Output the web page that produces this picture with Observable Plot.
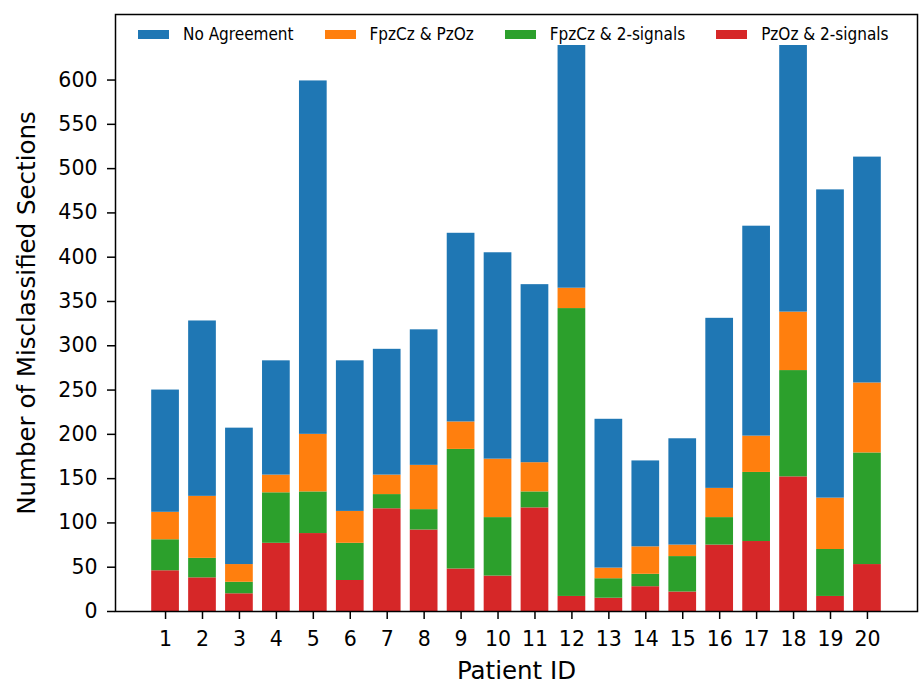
<!DOCTYPE html>
<html>
<head>
<meta charset="utf-8">
<script src="https://cdn.jsdelivr.net/npm/d3@7"></script>
<script src="https://cdn.jsdelivr.net/npm/@observablehq/plot@0.6"></script>
<style>
  html, body { margin: 0; padding: 0; background: #fff; }
  #chart { position: relative; width: 919px; height: 684px; font-family: "DejaVu Sans", sans-serif; }
  #legend {
    position: absolute; left: 138px; top: 23px;
    display: flex; align-items: center; gap: 31px;
    font-family: "DejaVu Sans Condensed", "DejaVu Sans", sans-serif;
    font-stretch: condensed; font-size: 17px; color: #000;
    background: #fff; padding: 1px 0;
  }
  #legend .item { display: flex; align-items: center; gap: 14px; }
  #legend .sw { width: 31px; height: 9px; }
  #chart svg g[aria-label="x-axis label"] text,
  #chart svg g[aria-label="y-axis label"] text { font-size: 24.5px; }
</style>
</head>
<body>
<div id="chart"><div id="legend"></div></div>
<script>
// Patients and misclassified-section counts per agreement category
const patients = [1, 2, 3, 4, 5, 6, 7, 8, 9, 10, 11, 12, 13, 14, 15, 16, 17, 18, 19, 20];
const pzOzTwoSignals   = [46, 38, 20, 77, 88, 35, 116, 92, 48, 40, 117, 17, 15, 28, 22, 75, 79, 152, 17, 53];
const fpzCzTwoSignals  = [35, 22, 13, 57, 47, 42, 16, 23, 135, 66, 18, 325, 22, 14, 40, 31, 78, 120, 53, 126];
const fpzCzPzOz        = [31, 70, 20, 20, 65, 36, 22, 50, 31, 66, 33, 23, 12, 31, 13, 33, 41, 66, 58, 79];
const noAgreement      = [138, 198, 154, 129, 399, 170, 142, 153, 213, 233, 201, 276, 168, 97, 120, 192, 237, 305, 348, 255];

const seriesNames = ["No Agreement", "FpzCz & PzOz", "FpzCz & 2-signals", "PzOz & 2-signals"];
const seriesColors = ["#1f77b4", "#ff7f0e", "#2ca02c", "#d62728"];
const yTicks = [0, 50, 100, 150, 200, 250, 300, 350, 400, 450, 500, 550, 600];

// Long table, bottom segment first so the stack builds upward
const rows = [];
patients.forEach((p, i) => {
  rows.push({patient: p, series: "PzOz & 2-signals", count: pzOzTwoSignals[i]});
  rows.push({patient: p, series: "FpzCz & 2-signals", count: fpzCzTwoSignals[i]});
  rows.push({patient: p, series: "FpzCz & PzOz", count: fpzCzPzOz[i]});
  rows.push({patient: p, series: "No Agreement", count: noAgreement[i]});
});

const chart = Plot.plot({
  width: 919,
  height: 684,
  marginTop: 14,
  marginRight: 2,
  marginBottom: 73,
  marginLeft: 115,
  style: {fontFamily: "DejaVu Sans, sans-serif", color: "#000", background: "#fff"},
  x: {type: "band", domain: patients, paddingInner: 0.25, paddingOuter: 0.98, round: false},
  y: {domain: [0, 674]},
  color: {domain: seriesNames, range: seriesColors},
  marks: [
    Plot.barY(rows, {x: "patient", y: "count", fill: "series", inset: 0}),
    Plot.frame({stroke: "#000", strokeWidth: 1.5}),
    Plot.axisY({
      ticks: yTicks, tickSize: 8, tickPadding: 10, fontSize: 20.5, strokeWidth: 1.5,
      label: "Number of Misclassified Sections", labelAnchor: "center", labelArrow: "none", labelOffset: 98
    }),
    Plot.axisX({
      tickSize: 8, tickPadding: 12, fontSize: 20.5, strokeWidth: 1.5,
      label: "Patient ID", labelAnchor: "center", labelArrow: "none", labelOffset: 67
    })
  ]
});

const host = document.getElementById("chart");
host.insertBefore(chart, host.firstChild);

const legend = document.getElementById("legend");
seriesNames.forEach((name, i) => {
  const item = document.createElement("div");
  item.className = "item";
  const sw = document.createElement("span");
  sw.className = "sw";
  sw.style.background = seriesColors[i];
  const label = document.createElement("span");
  label.textContent = name;
  item.append(sw, label);
  legend.append(item);
});
</script>
</body>
</html>
